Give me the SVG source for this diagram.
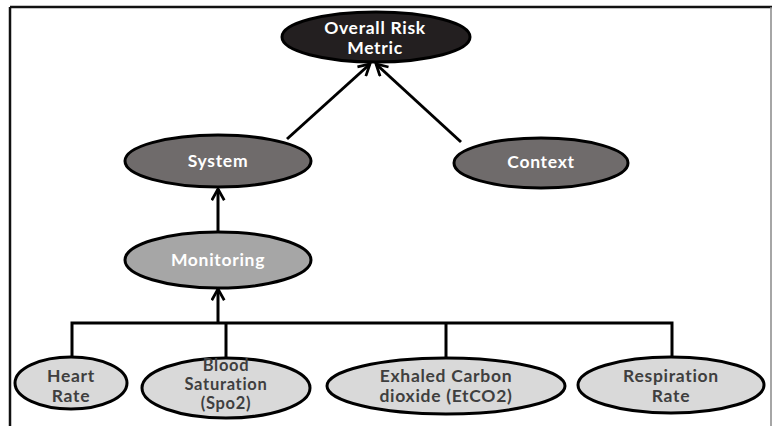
<svg xmlns="http://www.w3.org/2000/svg" width="773" height="426" viewBox="0 0 773 426">
  <style>
    .node { stroke: #000; stroke-width: 3; }
    .dark { fill: #231f20; }
    .mid { fill: #6f6b6b; }
    .light { fill: #a6a6a6; }
    .leaf { fill: #d9d9d9; }
    .lbl { font-family: Lato, "Open Sans", sans-serif; font-size: 17.5px; font-weight: 700; letter-spacing: 0.7px; text-anchor: middle; }
    .sm { font-size: 16.5px; letter-spacing: 0.7px; }
    .w { fill: #ffffff; }
    .k { fill: #3f3f3f; }
    .edge { stroke: #000; stroke-width: 3; fill: none; }
  </style>
  <defs>
    <marker id="arrow" viewBox="0 0 12 12" refX="10" refY="6" markerWidth="5" markerHeight="5" markerUnits="strokeWidth" orient="auto">
      <path d="M1,1 L10,6 L1,11" fill="none" stroke="#000" stroke-width="2.2"/>
    </marker>
  </defs>
  <rect width="773" height="426" fill="#ffffff"/>
  <!-- outer frame -->
  <g id="frame" stroke-width="2.5" fill="none">
    <line x1="10" y1="7" x2="772" y2="7" stroke="#111"/>
    <line x1="10" y1="7" x2="10" y2="426" stroke="#111"/>
    <line x1="771" y1="7" x2="771" y2="426" stroke="#888" stroke-width="1.5"/>
  </g>

  <g id="connectors">
    <line class="edge" x1="287" y1="139" x2="370" y2="64" marker-end="url(#arrow)"/>
    <line class="edge" x1="461" y1="142" x2="376" y2="64" marker-end="url(#arrow)"/>
    <line class="edge" x1="218" y1="232" x2="218" y2="189" marker-end="url(#arrow)"/>
    <line class="edge" x1="218" y1="323" x2="218" y2="289" marker-end="url(#arrow)"/>
    <polyline class="edge" points="72,357 72,323 672,323 672,358"/>
    <line class="edge" x1="226" y1="323" x2="226" y2="358"/>
    <line class="edge" x1="446" y1="323" x2="446" y2="358"/>
  </g>

  <g id="overall">
    <ellipse class="node dark" cx="376" cy="37" rx="94" ry="25"/>
    <text class="lbl w" x="375" y="34">Overall Risk</text>
    <text class="lbl w" x="375" y="54">Metric</text>
  </g>
  <g id="system">
    <ellipse class="node mid" cx="218" cy="161" rx="93" ry="26"/>
    <text class="lbl w" x="218" y="167">System</text>
  </g>
  <g id="context">
    <ellipse class="node mid" cx="541" cy="163" rx="87" ry="25"/>
    <text class="lbl w" x="541" y="168">Context</text>
  </g>
  <g id="monitoring">
    <ellipse class="node light" cx="218" cy="260" rx="93" ry="28"/>
    <text class="lbl w" x="218" y="266">Monitoring</text>
  </g>
  <g id="heart-rate">
    <ellipse class="node leaf" cx="71" cy="383" rx="56" ry="26"/>
    <text class="lbl k" x="71" y="382">Heart</text>
    <text class="lbl k" x="71" y="402">Rate</text>
  </g>
  <g id="blood-saturation">
    <ellipse class="node leaf" cx="226" cy="388" rx="84" ry="30"/>
    <text class="lbl sm k" x="226" y="371">Blood</text>
    <text class="lbl sm k" x="226" y="390">Saturation</text>
    <text class="lbl sm k" x="226" y="409">(Spo2)</text>
  </g>
  <g id="exhaled-co2">
    <ellipse class="node leaf" cx="446" cy="386" rx="119" ry="28"/>
    <text class="lbl k" x="446" y="382">Exhaled Carbon</text>
    <text class="lbl k" x="446" y="402">dioxide (EtCO2)</text>
  </g>
  <g id="respiration-rate">
    <ellipse class="node leaf" cx="671" cy="385" rx="93" ry="28"/>
    <text class="lbl k" x="671" y="382">Respiration</text>
    <text class="lbl k" x="671" y="402">Rate</text>
  </g>
</svg>
